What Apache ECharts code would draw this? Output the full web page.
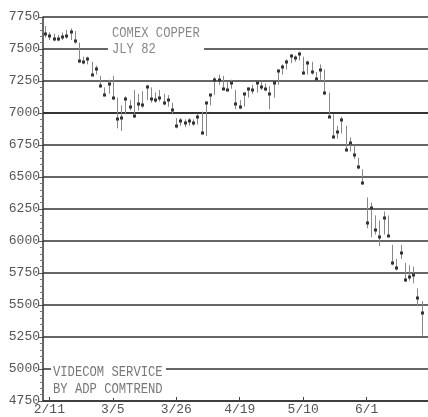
<!DOCTYPE html>
<html><head><meta charset="utf-8">
<script src="https://cdn.jsdelivr.net/npm/echarts@6/dist/echarts.min.js"></script>
<style>html,body{margin:0;padding:0;background:#fff}#c{width:428px;height:417px}</style>
</head><body><div id="c"></div>
<script>
const dates = ['2/10','2/11','2/12','2/16','2/17','2/18','2/19','2/22','2/23','2/24','2/25','2/26',
'3/1','3/2','3/3','3/4','3/5','3/8','3/9','3/10','3/11','3/12','3/15','3/16','3/17','3/18','3/19',
'3/22','3/23','3/24','3/25','3/26','3/29','3/30','3/31','4/1','4/2','4/5','4/6','4/7','4/8',
'4/12','4/13','4/14','4/15','4/16','4/19','4/20','4/21','4/22','4/23','4/26','4/27','4/28','4/29','4/30',
'5/3','5/4','5/5','5/6','5/7','5/10','5/11','5/12','5/13','5/14','5/17','5/18','5/19','5/20','5/21',
'5/24','5/25','5/26','5/27','5/28','6/1','6/2','6/3','6/4','6/7','6/8','6/9','6/10','6/11',
'6/14','6/15','6/16','6/17','6/18','6/21'];
const tickLabels = ['2/11','3/5','3/26','4/19','5/10','6/1'];
const highs = [7680,7630,7620,7610,7630,7650,7660,7640,7550,7440,7440,7400,7370,7290,7200,7260,7290,7120,7060,7130,
7100,7180,7150,7170,7220,7200,7160,7180,7150,7140,7080,6960,6960,6950,6960,6950,6990,7010,7090,7150,
7280,7300,7290,7240,7260,7180,7100,7160,7200,7220,7250,7240,7230,7210,7240,7340,7380,7420,7460,7450,
7480,7440,7410,7400,7320,7380,7340,7160,6990,6900,6970,6900,6810,6750,6650,6560,6340,6300,6200,6160,
6230,6200,5970,5860,5970,5830,5810,5800,5630,5530];
const lows = [7590,7570,7560,7560,7570,7580,7570,7540,7390,7380,7380,7290,7300,7200,7130,7150,7100,6880,6860,6990,
7020,6960,7020,7040,7100,7080,7080,7090,7060,7050,6990,6880,6900,6890,6900,6900,6910,6830,6820,7060,
7140,7220,7180,7170,7190,7030,7030,7050,7120,7150,7160,7180,7170,7030,7120,7220,7300,7340,7390,7400,
7410,7300,7300,7300,7250,7260,7140,6960,6800,6800,6840,6700,6700,6640,6560,6440,6100,6030,6050,5960,
6050,6030,5810,5770,5860,5680,5690,5670,5490,5260];
const closes = [7620,7600,7580,7575,7590,7600,7630,7560,7410,7395,7420,7300,7340,7210,7140,7230,7120,6950,6960,7110,
7050,6980,7070,7060,7200,7110,7100,7120,7080,7100,7020,6900,6940,6920,6935,6920,6970,6840,7080,7140,
7260,7260,7190,7180,7235,7070,7045,7150,7190,7180,7235,7200,7190,7150,7235,7330,7360,7400,7445,7430,
7460,7310,7390,7320,7265,7335,7155,6970,6810,6850,6945,6710,6765,6670,6580,6455,6140,6260,6085,6030,
6180,6040,5830,5790,5905,5695,5720,5735,5555,5440];

const FONT = 'Liberation Mono';
const showLabel = (idx, val) => tickLabels.indexOf(val) >= 0;
const barData = [];
for (let i = 0; i < highs.length; i++) barData.push([i, highs[i], lows[i], closes[i]]);

const chart = echarts.init(document.getElementById('c'), null, {renderer: 'canvas'});
chart.setOption({
  backgroundColor: '#fff',
  animation: false,
  grid: {left: 43, right: 0, top: 17, bottom: 16, containLabel: false},
  xAxis: {
    type: 'category', data: dates, boundaryGap: true,
    axisLine: {show: true, lineStyle: {color: '#333', width: 1.5}},
    axisTick: {show: true, inside: true, length: 4, interval: showLabel, alignWithLabel: true, lineStyle: {color: '#444'}},
    axisLabel: {interval: showLabel, margin: 2, color: '#555', fontFamily: FONT, fontSize: 13},
    splitLine: {show: false}
  },
  yAxis: {
    type: 'value', min: 4750, max: 7750, interval: 250,
    axisLine: {show: true, lineStyle: {color: '#333', width: 1.5}},
    axisTick: {show: true, length: 4, lineStyle: {color: '#555'}},
    minorTick: {show: true, splitNumber: 5, length: 3, lineStyle: {color: '#777'}},
    axisLabel: {margin: 3, color: '#555', fontFamily: FONT, fontSize: 13, formatter: v => String(v)},
    splitLine: {show: true, lineStyle: {color: '#333', width: 1.5}}
  },
  series: [{
    type: 'custom',
    data: barData,
    encode: {x: 0, y: [1, 2, 3]},
    renderItem: function (params, api) {
      const i = api.value(0);
      const ph = api.coord([i, api.value(1)]);
      const pl = api.coord([i, api.value(2)]);
      const pc = api.coord([i, api.value(3)]);
      const x = Math.round(ph[0]) + 0.5;
      return {type: 'group', children: [
        {type: 'line', shape: {x1: x, y1: ph[1], x2: x, y2: pl[1]}, style: {stroke: '#888', lineWidth: 1}},
        {type: 'rect', shape: {x: x - 1.5, y: Math.round(pc[1]) - 1.5, width: 3, height: 3}, style: {fill: '#333'}}
      ]};
    },
    markLine: {
      silent: true, symbol: 'none', label: {show: false},
      lineStyle: {color: '#333', width: 2.2, type: 'solid'},
      data: [{yAxis: 7000}]
    },
    z: 5
  }],
  graphic: [
    {type: 'rect', shape: {x: 108, y: 22, width: 96, height: 35}, style: {fill: '#fff'}, z: 10},
    {type: 'text', x: 112, y: 26, scaleX: 0.87, style: {text: 'COMEX COPPER', fontFamily: FONT, fontSize: 14, fill: '#888', verticalAlign: 'top'}, z: 11},
    {type: 'text', x: 112, y: 42, scaleX: 0.87, style: {text: 'JLY 82', fontFamily: FONT, fontSize: 14, fill: '#888', verticalAlign: 'top'}, z: 11},
    {type: 'rect', shape: {x: 51, y: 362, width: 115, height: 36}, style: {fill: '#fff'}, z: 10},
    {type: 'text', x: 53, y: 365, scaleX: 0.87, style: {text: 'VIDECOM SERVICE', fontFamily: FONT, fontSize: 14, fill: '#777', verticalAlign: 'top'}, z: 11},
    {type: 'text', x: 53, y: 382, scaleX: 0.87, style: {text: 'BY ADP COMTREND', fontFamily: FONT, fontSize: 14, fill: '#777', verticalAlign: 'top'}, z: 11}
  ]
});
</script></body></html>
